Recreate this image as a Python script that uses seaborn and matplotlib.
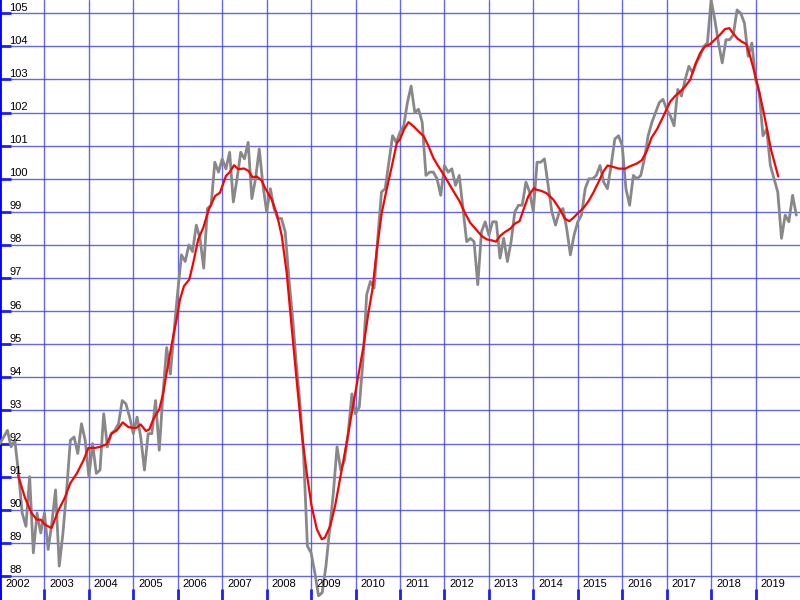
import matplotlib
matplotlib.use("Agg")
import matplotlib.pyplot as plt
import matplotlib.transforms as mtransforms
import seaborn as sns
import numpy as np
import pandas as pd

# ---- data ----
start_year = 2002
monthly_values = [
    # 2002
    92.0, 92.2, 92.4, 91.9, 92.1, 91.1, 89.9, 89.5, 91.0, 88.7, 89.9, 89.3,
    # 2003
    89.9, 88.8, 89.6, 90.6, 88.3, 89.3, 90.6, 92.1, 92.2, 91.7, 92.6, 92.1,
    # 2004
    91.0, 92.0, 91.1, 91.2, 92.9, 91.9, 92.3, 92.4, 92.6, 93.3, 93.2, 92.8,
    # 2005
    92.3, 92.8, 92.2, 91.2, 92.3, 92.3, 93.3, 91.8, 93.5, 94.9, 94.1, 95.4,
    # 2006
    96.6, 97.7, 97.5, 98.0, 97.8, 98.6, 98.2, 97.3, 99.1, 99.2, 100.5, 100.2,
    # 2007
    100.6, 100.3, 100.8, 99.3, 100.0, 100.8, 100.6, 101.1, 99.4, 100.0, 100.9, 99.8,
    # 2008
    99.0, 99.7, 99.1, 98.8, 98.8, 98.4, 97.0, 95.8, 94.4, 93.2, 91.6, 88.9,
    # 2009
    88.7, 88.1, 87.4, 87.5, 88.3, 89.4, 90.5, 91.9, 91.2, 91.5, 92.3, 93.5,
    # 2010
    92.9, 93.1, 94.5, 96.5, 96.9, 96.7, 98.2, 99.6, 99.7, 100.5, 101.3, 101.1,
    # 2011
    101.4, 101.6, 102.3, 102.8, 102.0, 102.1, 101.7, 100.1, 100.2, 100.2, 100.0, 99.5,
    # 2012
    100.4, 100.2, 100.3, 99.8, 100.1, 99.1, 98.1, 98.2, 98.1, 96.8, 98.4, 98.7,
    # 2013
    98.3, 98.7, 98.7, 97.6, 98.2, 97.5, 98.1, 99.0, 99.2, 99.2, 99.9, 99.6,
    # 2014
    99.0, 100.5, 100.5, 100.6, 99.8, 99.0, 98.6, 99.0, 99.1, 98.5, 97.7, 98.3,
    # 2015
    98.7, 98.9, 99.7, 100.0, 100.0, 100.1, 100.4, 99.9, 99.7, 100.4, 101.2, 101.3,
    # 2016
    101.0, 99.7, 99.2, 100.1, 100.0, 100.1, 100.6, 101.3, 101.7, 102.0, 102.3, 102.4,
    # 2017
    102.1, 101.9, 101.6, 102.7, 102.5, 103.0, 103.4, 103.2, 103.5, 103.7, 104.0, 104.1,
    # 2018
    105.4, 104.8, 104.1, 103.5, 104.2, 104.2, 104.35, 105.1, 105.0, 104.7, 103.7, 104.1,
    # 2019
    103.0, 102.6, 101.3, 101.5, 100.4, 100.0, 99.6, 98.2, 98.9, 98.7, 99.5, 98.9,
]

trend_years = [
    2002.41, 2002.56, 2002.71, 2002.83, 2002.92, 2003.01, 2003.16, 2003.31, 2003.46,
    2003.58, 2003.73, 2003.88, 2003.99, 2004.14, 2004.25, 2004.40, 2004.51, 2004.63,
    2004.76, 2004.89, 2005.00, 2005.075, 2005.165, 2005.285, 2005.36, 2005.45, 2005.585,
    2005.675, 2005.75, 2005.885, 2005.975, 2006.05, 2006.14, 2006.26, 2006.35, 2006.46,
    2006.575, 2006.70, 2006.84, 2006.95, 2007.085, 2007.175, 2007.265, 2007.36, 2007.49,
    2007.59, 2007.685, 2007.775, 2007.89, 2007.96, 2008.11, 2008.23, 2008.34, 2008.45,
    2008.56, 2008.68, 2008.79, 2008.90, 2009.01, 2009.13, 2009.24, 2009.31, 2009.43,
    2009.54, 2009.65, 2009.80, 2009.93, 2010.06, 2010.18, 2010.29, 2010.38, 2010.48,
    2010.59, 2010.70, 2010.81, 2010.93, 2011.00, 2011.09, 2011.19, 2011.30, 2011.41,
    2011.53, 2011.64, 2011.75, 2011.86, 2011.98, 2012.09, 2012.20, 2012.34, 2012.46,
    2012.58, 2012.71, 2012.84, 2012.95, 2013.06, 2013.16, 2013.25, 2013.36, 2013.48,
    2013.59, 2013.69, 2013.78, 2013.89, 2014.02, 2014.04, 2014.19, 2014.30, 2014.45,
    2014.60, 2014.71, 2014.81, 2014.90, 2015.01, 2015.13, 2015.24, 2015.35, 2015.46,
    2015.58, 2015.67, 2015.79, 2015.91, 2016.06, 2016.18, 2016.33, 2016.44, 2016.55,
    2016.66, 2016.78, 2016.89, 2016.96, 2017.08, 2017.19, 2017.30, 2017.41, 2017.53,
    2017.64, 2017.75, 2017.86, 2017.98, 2018.09, 2018.20, 2018.31, 2018.41, 2018.49,
    2018.59, 2018.69, 2018.79, 2018.88, 2018.99, 2019.09, 2019.18, 2019.27, 2019.35,
    2019.44, 2019.51,
]
trend_values = [
    91.03, 90.37, 89.90, 89.70, 89.70, 89.55, 89.45, 89.97, 90.37,
    90.80, 91.10, 91.50, 91.87, 91.87, 91.90, 91.98, 92.30, 92.40,
    92.64, 92.50, 92.47, 92.48, 92.58, 92.38, 92.43, 92.74, 93.04,
    93.54, 94.15, 95.15, 95.76, 96.36, 96.76, 96.96, 97.47, 98.17,
    98.53, 99.08, 99.48, 99.58, 100.09, 100.21, 100.41, 100.29, 100.31,
    100.24, 100.04, 100.07, 99.94, 99.73, 99.38, 98.93, 98.27, 97.17,
    95.55, 93.84, 92.33, 91.12, 90.12, 89.41, 89.11, 89.16, 89.51,
    90.12, 90.93, 92.03, 93.04, 94.04, 94.95, 95.96, 96.66, 97.87,
    98.98, 99.68, 100.34, 101.09, 101.19, 101.49, 101.71, 101.59, 101.44,
    101.29, 100.99, 100.63, 100.38, 100.13, 99.88, 99.63, 99.32, 98.97,
    98.67, 98.47, 98.27, 98.17, 98.14, 98.10, 98.27, 98.39, 98.49,
    98.65, 98.72, 99.07, 99.48, 99.73, 99.68, 99.63, 99.56, 99.37,
    99.07, 98.79, 98.72, 98.82, 98.97, 99.12, 99.32, 99.58, 99.88,
    100.23, 100.40, 100.36, 100.31, 100.30, 100.38, 100.46, 100.56, 100.83,
    101.24, 101.49, 101.79, 101.99, 102.33, 102.50, 102.63, 102.78, 102.99,
    103.44, 103.79, 103.99, 104.07, 104.21, 104.35, 104.52, 104.55, 104.40,
    104.24, 104.14, 104.07, 103.69, 103.14, 102.58, 102.03, 101.42, 100.87,
    100.42, 100.07,
]

y_ticks = list(range(88, 106))
x_years = list(range(2002, 2020))

# ---- build frames ----
monthly_x = [start_year + i / 12 for i in range(len(monthly_values))]
df_m = pd.DataFrame({"year": monthly_x, "value": monthly_values})
df_t = pd.DataFrame({"year": trend_years, "value": trend_values})

sns.set_theme(style="white")
plt.rcParams["font.family"] = ["Liberation Sans", "DejaVu Sans"]

fig = plt.figure(figsize=(8, 6), dpi=100)
ax = fig.add_axes([0, 0, 1, 1])

ax.set_xlim(2002, 2020)
ax.set_ylim(87.275, 105.40)

grid_col = "#3c3cff"
ax.set_yticks(y_ticks)
ax.set_xticks(x_years)
ax.grid(True, color=grid_col, linewidth=1.0, alpha=0.8)
ax.set_axisbelow(True)

sns.lineplot(data=df_m, x="year", y="value", ax=ax, color="#888888",
             linewidth=2.0, sort=False, estimator=None, zorder=3)
sns.lineplot(data=df_t, x="year", y="value", ax=ax, color="#ff0000",
             linewidth=1.6, sort=False, estimator=None, zorder=4)

ax.set_xlabel("")
ax.set_ylabel("")
ax.tick_params(axis="both", which="both", direction="in", left=True,
               bottom=True, labelleft=False, labelbottom=False,
               length=8, width=2.0, colors="#2020ff")
ax.set_xlim(2002, 2020)
ax.set_ylim(87.275, 105.40)

for s in ["top", "right", "bottom"]:
    ax.spines[s].set_visible(False)
ax.spines["left"].set_color("#0000ff")
ax.spines["left"].set_linewidth(2.0)

# y labels: just above each gridline, near left edge
ytrans = mtransforms.blended_transform_factory(ax.transAxes, ax.transData)
for v in y_ticks:
    ax.text(9.5 / 800, v + 2.6 / 33.1, str(v), transform=ytrans,
            ha="left", va="baseline", fontsize=8, color="black", zorder=6)

# x labels: right of each year gridline near bottom
xtrans = mtransforms.blended_transform_factory(ax.transData, ax.transAxes)
for yr in x_years:
    ax.text(yr + 5 / 44.44, 13 / 600, str(yr), transform=xtrans,
            ha="left", va="baseline", fontsize=8, color="black", zorder=6)

fig.savefig("out.png", dpi=100, facecolor="white")
